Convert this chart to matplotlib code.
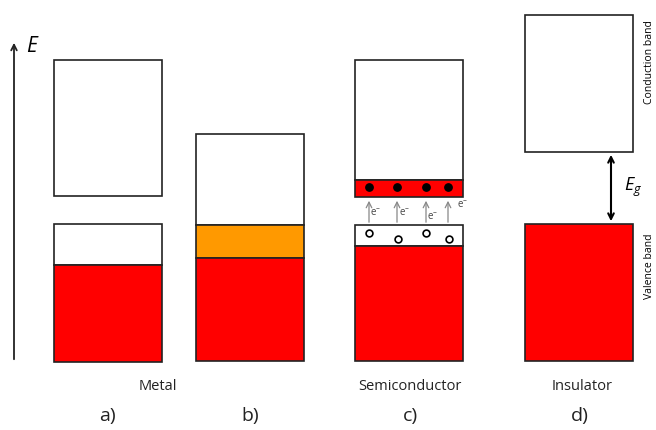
import matplotlib.pyplot as plt

plt.rcParams['font.family'] = ['Open Sans', 'DejaVu Sans']
plt.rcParams['mathtext.fontset'] = 'custom'
plt.rcParams['mathtext.it'] = 'Open Sans:italic'
plt.rcParams['mathtext.rm'] = 'Open Sans'

# band segments (pixel coordinates of the schematic, y grows downward)
seg_x = [54, 54, 54, 196, 196, 196, 355, 355, 355, 355, 525, 525]
seg_top = [60, 224, 265, 134, 225, 258, 60, 180, 225, 246, 15, 224]
seg_bot = [196, 265, 362, 225, 258, 361, 180, 197, 246, 361, 152, 361]
seg_fill = ['white', 'white', '#ff0000', 'white', '#ff9900', '#ff0000',
            'white', '#ff0000', 'white', '#ff0000', 'white', '#ff0000']
band_w = 108

# semiconductor electrons / holes / excitation arrows
elec_x = [369, 397, 426, 448]
elec_y = [187, 187, 187, 187]
hole_x = [369, 398, 426, 449]
hole_y = [233, 239, 233, 239]
lbl_x = [376, 405, 433, 463]
lbl_y = [213, 213, 218, 206]

names = ['Metal', 'Semiconductor', 'Insulator']
names_x = [158, 410, 582]
letters = ['a)', 'b)', 'c)', 'd)']
letters_x = [107, 250, 410, 580]

fig = plt.figure(figsize=(6.56, 4.30), dpi=100)
ax = fig.add_axes([0, 0, 1, 1])
ax.set_xlim(0, 656)
ax.set_ylim(430, 0)
ax.axis('off')

ax.bar(seg_x, [b - t for t, b in zip(seg_top, seg_bot)], bottom=seg_top,
       width=band_w, align='edge', color=seg_fill, edgecolor='#222222',
       linewidth=1.2, zorder=2)

ax.scatter(elec_x, elec_y, s=28, color='black', zorder=4)
ax.scatter(hole_x, hole_y, s=24, facecolor='white', edgecolor='black',
           linewidth=1.2, zorder=4)
for x in elec_x:
    ax.annotate('', xy=(x, 198), xytext=(x, 225),
                arrowprops=dict(arrowstyle='->', color='#888888', lw=0.9),
                zorder=3)
for x, y in zip(lbl_x, lbl_y):
    ax.text(x, y, 'e$^{-}$', fontsize=7, color='#444444',
            ha='center', va='center', zorder=5)

# energy axis
ax.annotate('', xy=(14, 40), xytext=(14, 362),
            arrowprops=dict(arrowstyle='->', color='#222222', lw=1.3))
ax.text(26, 47, '$E$', fontsize=15, ha='left', va='center')

# band gap arrow
ax.annotate('', xy=(611, 152), xytext=(611, 224),
            arrowprops=dict(arrowstyle='<->', color='black', lw=1.5))
ax.text(624, 187, '$E_g$', fontsize=13, ha='left', va='center')

ax.text(650, 62, 'Conduction band', rotation=90, fontsize=7.5,
        ha='center', va='center')
ax.text(650, 266, 'Valence band', rotation=90, fontsize=7.5,
        ha='center', va='center')

for n, x in zip(names, names_x):
    ax.text(x, 387, n, fontsize=10.5, ha='center', va='center', color='#222222')
for l, x in zip(letters, letters_x):
    ax.text(x, 416, l, fontsize=14, ha='center', va='center', color='#222222')

plt.savefig('out.png', dpi=100)
